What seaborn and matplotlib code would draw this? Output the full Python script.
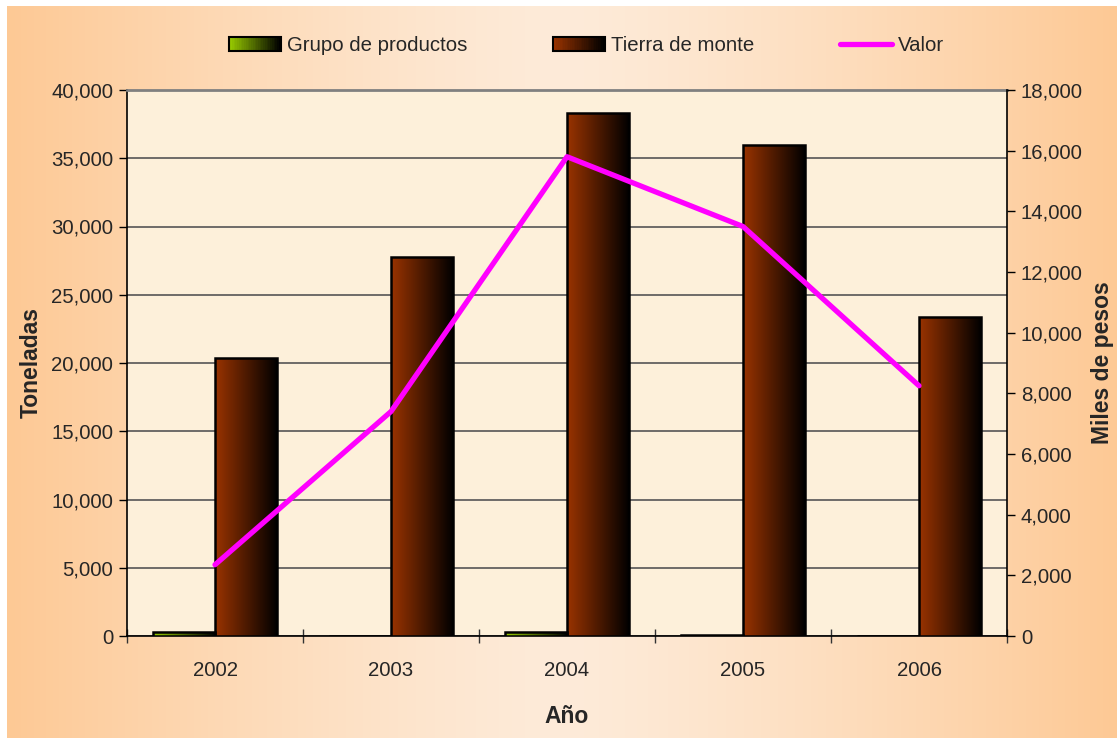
import numpy as np
import pandas as pd
import matplotlib.pyplot as plt
import seaborn as sns
from matplotlib.colors import LinearSegmentedColormap, to_rgb
from matplotlib.patches import Rectangle
from matplotlib.lines import Line2D
from matplotlib.legend_handler import HandlerBase

# data
years = ['2002', '2003', '2004', '2005', '2006']
grupo = [300, 0, 300, 100, 0]
tierra = [20400, 27800, 38300, 36000, 23400]
valor = [2350, 7400, 15800, 13500, 8250]

series_names = ['Grupo de productos', 'Tierra de monte']
bar_colors = ['#99cc00', '#993300']
line_color = '#ff00ff'

df = pd.DataFrame({
    'Año': years * 2,
    'Toneladas': grupo + tierra,
    'Serie': [series_names[0]] * len(years) + [series_names[1]] * len(years),
})

sns.set_theme(style='white')
plt.rcParams['font.family'] = ['Liberation Sans', 'DejaVu Sans']

TICK_FS = 14.7
LABEL_FS = 16.5

fig = plt.figure(figsize=(11.17, 7.38), dpi=100)
fig.patch.set_facecolor('white')

# peach gradient background for the chart area
bg = fig.add_axes([7 / 1117, 0, 1 - 7 / 1117, 1 - 6 / 738], zorder=-10)
c_edge = np.array(to_rgb('#fdc995'))
c_mid = np.array(to_rgb('#feebd9'))
t = np.abs(np.linspace(-1, 1, 400))[None, :, None]
grad = c_mid + (c_edge - c_mid) * t ** 1.3
bg.imshow(grad, aspect='auto', extent=(0, 1, 0, 1))
bg.set_axis_off()

ax = fig.add_axes([127 / 1117, 1 - 636 / 738, 880 / 1117, 546 / 738])
ax.set_facecolor('#fdf0da')

sns.barplot(data=df, x='Año', y='Toneladas', hue='Serie', hue_order=series_names,
            palette=bar_colors, width=0.71, edgecolor='black', linewidth=1.8,
            saturation=1, ax=ax, legend=False, zorder=3)

# horizontal gradient fill (colour -> black) inside each bar
for patch in ax.patches:
    h = patch.get_height()
    if h <= 0:
        continue
    x0 = patch.get_x()
    w = patch.get_width()
    base = patch.get_facecolor()
    cmap = LinearSegmentedColormap.from_list('g', [base, (0, 0, 0)])
    im = ax.imshow(np.linspace(0, 1, 100)[None, :], cmap=cmap, aspect='auto',
                   extent=(x0, x0 + w, 0, h), zorder=2.9, interpolation='bilinear')
    im.set_clip_path(patch)
    patch.set_facecolor('none')

ax.set_ylim(0, 40000)
ax.set_xlim(-0.5, len(years) - 0.5)
ax.set_yticks(np.arange(0, 40001, 5000))
ax.set_yticklabels([f'{v:,}' for v in range(0, 40001, 5000)], fontsize=TICK_FS)
ax.grid(axis='y', color='#555555', linewidth=1.2, zorder=0)
ax.set_axisbelow(True)
ax.tick_params(axis='y', direction='out', length=6, width=1, color='black', left=True, pad=4)
ax.set_xticks(range(len(years)))
ax.set_xticklabels(years, fontsize=TICK_FS)
ax.tick_params(axis='x', length=0, pad=18)
ax.set_xticks(np.arange(-0.5, len(years), 1), minor=True)
ax.tick_params(axis='x', which='minor', direction='inout', length=10, width=1, color='#333333', bottom=True)
ax.set_xlabel('Año', fontsize=LABEL_FS, fontweight='bold', labelpad=18)
ax.set_ylabel('Toneladas', fontsize=LABEL_FS, fontweight='bold', labelpad=6)
for side in ['left', 'bottom']:
    ax.spines[side].set_color('black')
    ax.spines[side].set_linewidth(1.2)
ax.spines['top'].set_color('#808080')
ax.spines['top'].set_linewidth(2)
ax.spines['right'].set_visible(False)

ax2 = ax.twinx()
sns.lineplot(x=list(range(len(years))), y=valor, ax=ax2, color=line_color, linewidth=3.8,
             sort=False, zorder=5)
ax2.set_ylim(0, 18000)
ax2.set_xlim(-0.5, len(years) - 0.5)
ax2.set_yticks(np.arange(0, 18001, 2000))
ax2.set_yticklabels([f'{v:,}' for v in range(0, 18001, 2000)], fontsize=TICK_FS)
ax2.tick_params(axis='y', direction='out', length=6, width=1, color='black', right=True, pad=4)
ax2.set_ylabel('Miles de pesos', fontsize=LABEL_FS, fontweight='bold', labelpad=6)
ax2.spines['right'].set_color('black')
ax2.spines['right'].set_linewidth(1.2)
for side in ['left', 'top', 'bottom']:
    ax2.spines[side].set_visible(False)
ax2.grid(False)


class GradientHandler(HandlerBase):
    def __init__(self, color):
        super().__init__()
        self.color = np.array(to_rgb(color))

    def create_artists(self, legend, orig_handle, xdescent, ydescent, width, height, fontsize, trans):
        arts = []
        n = 30
        for i in range(n):
            c = self.color * (1 - i / (n - 1))
            r = Rectangle((-xdescent + width * i / n, -ydescent), width / n + 0.3, height,
                          facecolor=c, edgecolor='none', transform=trans)
            arts.append(r)
        arts.append(Rectangle((-xdescent, -ydescent), width, height, facecolor='none',
                              edgecolor='black', linewidth=1.5, transform=trans))
        return arts


h1 = Rectangle((0, 0), 1, 1)
h2 = Rectangle((0, 0), 1, 1)
h3 = Line2D([0], [0], color=line_color, linewidth=3.8)
fig.legend([h1, h2, h3], [series_names[0], 'Tierra de monte', 'Valor'],
           handler_map={h1: GradientHandler(bar_colors[0]), h2: GradientHandler(bar_colors[1])},
           loc='center', bbox_to_anchor=(0.525, 0.938), ncol=3, frameon=False,
           fontsize=TICK_FS, handlelength=2.55, handleheight=0.7, handletextpad=0.3,
           columnspacing=4.2)

fig.savefig('out.png', dpi=100, facecolor='white')
